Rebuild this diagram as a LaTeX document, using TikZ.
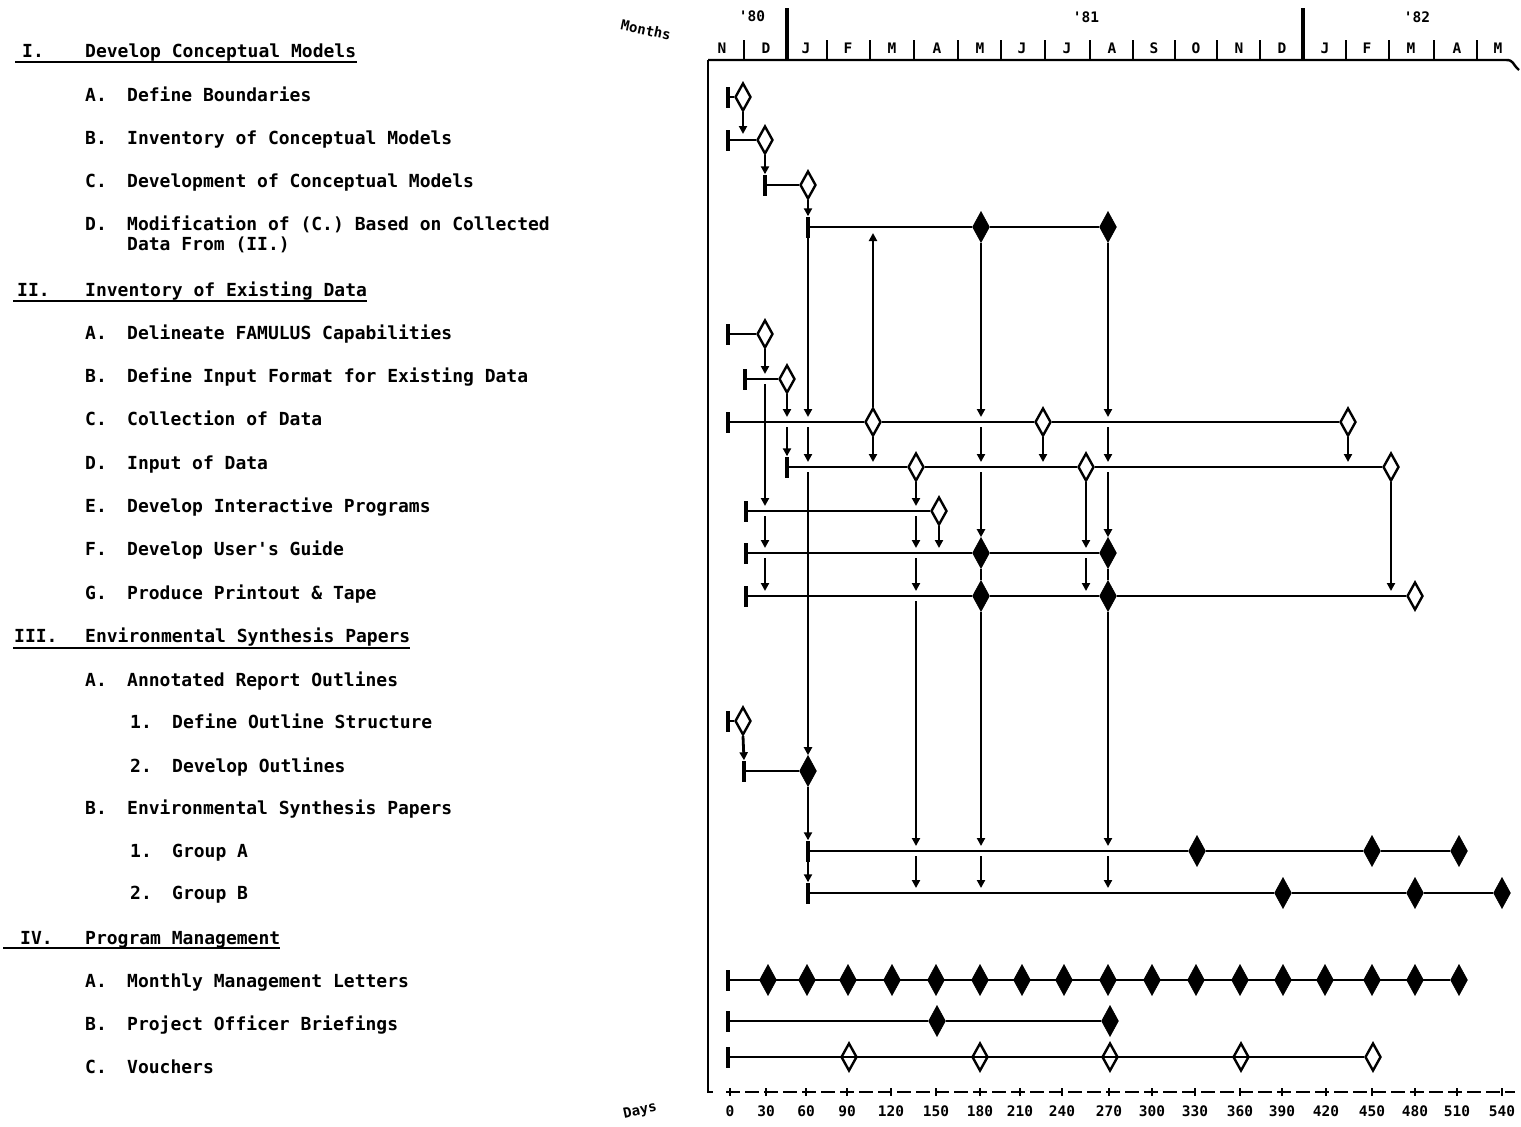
\documentclass[tikz,border=0pt]{standalone}
\usepackage{fontspec}
\newfontfamily\tw{DejaVu Sans Mono}
\usetikzlibrary{shapes.geometric,arrows.meta}
\begin{document}
\begin{tikzpicture}[x=1pt,y=-1pt,
  od/.style={diamond,draw,fill=white,line width=2.4pt,minimum width=16pt,minimum height=28pt,inner sep=0pt},
  fd/.style={diamond,draw,fill=black,line width=0.6pt,minimum width=17pt,minimum height=31pt,inner sep=0pt},
  stbar/.style={rectangle,fill=black,minimum width=3.6pt,minimum height=21pt,inner sep=0pt},
  ln/.style={line width=2pt},
  vl/.style={line width=2.8pt,-{Triangle[length=8pt,width=8pt]}},
  vp/.style={line width=2.8pt},
  txt/.style={font=\tw\bfseries\fontsize{18}{20}\selectfont,inner sep=0pt,anchor=base west},
  mon/.style={font=\tw\bfseries\fontsize{14.5}{15}\selectfont,inner sep=0pt},
  axis/.style={line width=2.4pt}
]
\useasboundingbox (0,0) rectangle (1521,1127);

% ---------------- left outline text ----------------
\node[txt] (hI) at (22,57) {I.};
\node[txt] (hIt) at (85,57) {Develop Conceptual Models};
\draw[line width=1.8pt] (15,62) -- (357,62);
\node[txt] (tIAl) at (85,101) {A.}; \node[txt] (tIA) at (127,101) {Define Boundaries};
\node[txt] (tIBl) at (85,144) {B.}; \node[txt] (tIB) at (127,144) {Inventory of Conceptual Models};
\node[txt] (tICl) at (85,187) {C.}; \node[txt] (tIC) at (127,187) {Development of Conceptual Models};
\node[txt] (tIDl) at (85,230) {D.}; \node[txt] (tID) at (127,230) {Modification of (C.) Based on Collected};
\node[txt] (tIDb) at (127,250) {Data From (II.)};

\node[txt] (hII) at (17,296) {II.};
\node[txt] (hIIt) at (85,296) {Inventory of Existing Data};
\draw[line width=1.8pt] (13,301) -- (367,301);
\node[txt] (tIIAl) at (85,339) {A.}; \node[txt] (tIIA) at (127,339) {Delineate FAMULUS Capabilities};
\node[txt] (tIIBl) at (85,382) {B.}; \node[txt] (tIIB) at (127,382) {Define Input Format for Existing Data};
\node[txt] (tIICl) at (85,425) {C.}; \node[txt] (tIIC) at (127,425) {Collection of Data};
\node[txt] (tIIDl) at (85,469) {D.}; \node[txt] (tIID) at (127,469) {Input of Data};
\node[txt] (tIIEl) at (85,512) {E.}; \node[txt] (tIIE) at (127,512) {Develop Interactive Programs};
\node[txt] (tIIFl) at (85,555) {F.}; \node[txt] (tIIF) at (127,555) {Develop User's Guide};
\node[txt] (tIIGl) at (85,599) {G.}; \node[txt] (tIIG) at (127,599) {Produce Printout \& Tape};

\node[txt] (hIII) at (14,642) {III.};
\node[txt] (hIIIt) at (85,642) {Environmental Synthesis Papers};
\draw[line width=1.8pt] (13,648) -- (410,648);
\node[txt] (tIIIAl) at (85,686) {A.}; \node[txt] (tIIIA) at (127,686) {Annotated Report Outlines};
\node[txt] (tIIIA1l) at (130,728) {1.}; \node[txt] (tIIIA1) at (172,728) {Define Outline Structure};
\node[txt] (tIIIA2l) at (130,772) {2.}; \node[txt] (tIIIA2) at (172,772) {Develop Outlines};
\node[txt] (tIIIBl) at (85,814) {B.}; \node[txt] (tIIIB) at (127,814) {Environmental Synthesis Papers};
\node[txt] (tIIIB1l) at (130,857) {1.}; \node[txt] (tIIIB1) at (172,857) {Group A};
\node[txt] (tIIIB2l) at (130,899) {2.}; \node[txt] (tIIIB2) at (172,899) {Group B};

\node[txt] (hIV) at (20,944) {IV.};
\node[txt] (hIVt) at (85,944) {Program Management};
\draw[line width=1.8pt] (3,948) -- (280,948);
\node[txt] (tIVAl) at (85,987) {A.}; \node[txt] (tIVA) at (127,987) {Monthly Management Letters};
\node[txt] (tIVBl) at (85,1030) {B.}; \node[txt] (tIVB) at (127,1030) {Project Officer Briefings};
\node[txt] (tIVCl) at (85,1073) {C.}; \node[txt] (tIVC) at (127,1073) {Vouchers};

% ---------------- header / axes ----------------
\node[font=\tw\bfseries\fontsize{14}{15}\selectfont,rotate=-12] (lmonths) at (646,30) {Months};
\node[font=\tw\bfseries\fontsize{14}{15}\selectfont,rotate=12] (ldays) at (640,1111) {Days};
\node[mon] (y80) at (752,16) {'80};
\node[mon] (y81) at (1086,17) {'81};
\node[mon] (y82) at (1417,17) {'82};
\foreach \x/\m [count=\i] in {722/N,766/D,806/J,848/F,892/M,937/A,980/M,1022/J,1067/J,1112/A,1154/S,1196/O,1239/N,1282/D,1325/J,1367/F,1411/M,1457/A,1498/M}
  \node[mon] (mo\i) at (\x,48) {\m};
\foreach \x in {744,827,870,914,958,1001,1045,1090,1133,1175,1217,1260,1346,1389,1434,1477}
  \draw[line width=2.6pt] (\x,40) -- (\x,60);
\draw[line width=3.2pt] (787,8) -- (787,60);
\draw[line width=3.2pt] (1303,8) -- (1303,60);
\draw[axis] (708,60) -- (1506,60) .. controls (1514,60) and (1512,64) .. (1519,70);
\draw[axis] (708,60) -- (708,1092) -- (713,1092);
\draw[line width=1.6pt,dash pattern=on 14pt off 5pt] (726,1092) -- (1515,1092);
\foreach \x/\d in {730/0,766/30,806/60,847/90,891/120,936/150,980/180,1020/210,1062/240,1109/270,1152/300,1195/330,1240/360,1282/390,1326/420,1372/450,1415/480,1457/510,1502/540}{
  \draw[line width=2pt] (\x,1088) -- (\x,1096);
  \node[mon] (day\d) at (\x,1111) {\d};
}

% ---------------- coordinates for arrow ends ----------------
\foreach \c in {765,787,808,873,916,939,981,1043,1086,1108,1348,1391}
  \foreach \r/\y in {B/379,C/422,D/467,E/511,F/553,G/596,Bi/851,Bii/893}{
    \coordinate (i\c\r) at (\c,\y-5);
    \coordinate (o\c\r) at (\c,\y+5);
  }
\coordinate (iIB) at (743,134);
\coordinate (up873) at (873,233);

% ---------------- Section I ----------------
\node[stbar] (bIA) at (728,97) {};
\node[od] (dIA) at (743,97) {};
\draw[ln] (bIA) -- (dIA);
\node[stbar] (bIB) at (728,140) {};
\node[od] (dIB) at (765,140) {};
\draw[ln] (bIB) -- (dIB);
\draw[vl] (dIA.south) -- (iIB);
\node[stbar] (bIC) at (765,185) {};
\node[od] (dIC) at (808,185) {};
\draw[ln] (bIC) -- (dIC);
\draw[vl] (dIB.south) -- (bIC.north);
\node[stbar] (bID) at (808,227) {};
\draw[vl] (dIC.south) -- (bID.north);
\node[fd] (fID1) at (981,227) {};
\node[fd] (fID2) at (1108,227) {};
\draw[ln] (bID) -- (fID1) -- (fID2);

% ---------------- Section II ----------------
\node[stbar] (bIIA) at (728,334) {};
\node[od] (dIIA) at (765,334) {};
\draw[ln] (bIIA) -- (dIIA);
\node[stbar] (bIIB) at (745,379) {};
\node[od] (dIIB) at (787,379) {};
\draw[ln] (bIIB) -- (dIIB);
\node[stbar] (bIIC) at (728,422) {};
\node[od] (dIIC1) at (873,422) {};
\node[od] (dIIC2) at (1043,422) {};
\node[od] (dIIC3) at (1348,422) {};
\draw[ln] (bIIC) -- (dIIC1) -- (dIIC2) -- (dIIC3);
\node[stbar] (bIID) at (787,467) {};
\node[od] (dIID1) at (916,467) {};
\node[od] (dIID2) at (1086,467) {};
\node[od] (dIID3) at (1391,467) {};
\draw[ln] (bIID) -- (dIID1) -- (dIID2) -- (dIID3);
\node[stbar] (bIIE) at (746,511) {};
\node[od] (dIIE) at (939,511) {};
\draw[ln] (bIIE) -- (dIIE);
\node[stbar] (bIIF) at (746,553) {};
\node[fd] (fIIF1) at (981,553) {};
\node[fd] (fIIF2) at (1108,553) {};
\draw[ln] (bIIF) -- (fIIF1) -- (fIIF2);
\node[stbar] (bIIG) at (746,596) {};
\node[fd] (fIIG1) at (981,596) {};
\node[fd] (fIIG2) at (1108,596) {};
\node[od] (dIIG3) at (1415,596) {};
\draw[ln] (bIIG) -- (fIIG1) -- (fIIG2) -- (dIIG3);

% ---------------- Section III ----------------
\node[stbar] (bIIIA1) at (728,721) {};
\node[od] (dIIIA1) at (743,721) {};
\draw[ln] (bIIIA1) -- (dIIIA1);
\node[stbar] (bIIIA2) at (744,771) {};
\node[fd] (fIIIA2) at (808,771) {};
\draw[ln] (bIIIA2) -- (fIIIA2);
\draw[vl] (dIIIA1.south) -- (bIIIA2.north);
\node[stbar] (bIIIB1) at (808,851) {};
\node[fd] (fB1a) at (1197,851) {};
\node[fd] (fB1b) at (1372,851) {};
\node[fd] (fB1c) at (1459,851) {};
\draw[ln] (bIIIB1) -- (fB1a) -- (fB1b) -- (fB1c);
\node[stbar] (bIIIB2) at (808,893) {};
\node[fd] (fB2a) at (1283,893) {};
\node[fd] (fB2b) at (1415,893) {};
\node[fd] (fB2c) at (1502,893) {};
\draw[ln] (bIIIB2) -- (fB2a) -- (fB2b) -- (fB2c);

% ---------------- vertical dependency arrows ----------------
% column 808
\draw[vl] (bID.south) -- (i808C);
\draw[vl] (o808C) -- (i808D);
\draw[vl] (o808D) -- (fIIIA2.north);
\draw[vl] (fIIIA2.south) -- (bIIIB1.north);
\draw[vl] (bIIIB1.south) -- (bIIIB2.north);
% column 765
\draw[vl] (dIIA.south) -- (i765B);
\draw[vl] (o765B) -- (i765E);
\draw[vl] (o765E) -- (i765F);
\draw[vl] (o765F) -- (i765G);
% column 787
\draw[vl] (dIIB.south) -- (i787C);
\draw[vl] (o787C) -- (bIID.north);
% column 873
\draw[vl] (dIIC1.north) -- (up873);
\draw[vl] (dIIC1.south) -- (i873D);
% column 916
\draw[vl] (dIID1.south) -- (i916E);
\draw[vl] (o916E) -- (i916F);
\draw[vl] (o916F) -- (i916G);
\draw[vl] (o916G) -- (i916Bi);
\draw[vl] (o916Bi) -- (i916Bii);
% column 939
\draw[vl] (dIIE.south) -- (i939F);
% column 981
\draw[vl] (fID1.south) -- (i981C);
\draw[vl] (o981C) -- (i981D);
\draw[vl] (o981D) -- (fIIF1.north);
\draw[vp] (fIIF1.south) -- (fIIG1.north);
\draw[vl] (fIIG1.south) -- (i981Bi);
\draw[vl] (o981Bi) -- (i981Bii);
% column 1043
\draw[vl] (dIIC2.south) -- (i1043D);
% column 1086
\draw[vl] (dIID2.south) -- (i1086F);
\draw[vl] (o1086F) -- (i1086G);
% column 1108
\draw[vl] (fID2.south) -- (i1108C);
\draw[vl] (o1108C) -- (i1108D);
\draw[vl] (o1108D) -- (fIIF2.north);
\draw[vp] (fIIF2.south) -- (fIIG2.north);
\draw[vl] (fIIG2.south) -- (i1108Bi);
\draw[vl] (o1108Bi) -- (i1108Bii);
% columns 1348, 1391
\draw[vl] (dIIC3.south) -- (i1348D);
\draw[vl] (dIID3.south) -- (i1391G);

% ---------------- Section IV ----------------
\node[stbar] (bIVA) at (728,980) {};
\foreach \x [count=\i] in {768,807,848,892,936,980,1022,1064,1108,1152,1196,1240,1283,1325,1372,1415,1459}
  \node[fd] (IVA\i) at (\x,980) {};
\draw[ln] (bIVA) \foreach \i in {1,...,17} { -- (IVA\i) };
\node[stbar] (bIVB) at (728,1021) {};
\node[fd] (IVB1) at (937,1021) {};
\node[fd] (IVB2) at (1110,1021) {};
\draw[ln] (bIVB) -- (IVB1) -- (IVB2);
\node[stbar] (bIVC) at (728,1057) {};
\foreach \x [count=\i] in {849,980,1110,1241,1373}
  \node[od] (IVC\i) at (\x,1057) {};
\draw[ln] (bIVC) \foreach \i in {1,...,5} { -- (IVC\i) };
\end{tikzpicture}
\end{document}
